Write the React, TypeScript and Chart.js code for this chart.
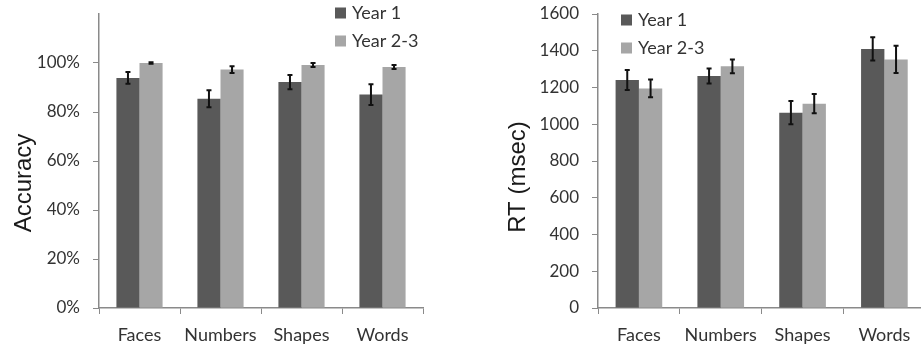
import React, { useEffect, useRef } from "react";
import { Chart, registerables } from "chart.js";
Chart.register(...registerables);

const categories = ["Faces", "Numbers", "Shapes", "Words"];
const seriesNames = ["Year 1", "Year 2-3"];

const accYear1 = [93.9, 85.4, 92.2, 87.1];
const accYear23 = [100, 97.3, 99.2, 98.4];
const accErrYear1 = [2.4, 3.5, 2.9, 4.2];
const accErrYear23 = [0.3, 1.4, 0.8, 0.8];

const rtYear1 = [1241, 1263, 1063, 1410];
const rtYear23 = [1195, 1315, 1112, 1353];
const rtErrYear1 = [54, 41, 63, 63];
const rtErrYear23 = [48, 37, 52, 74];

const accAxis = { min: 0, max: 120, step: 20, hidden: 120 };
const rtAxis = { min: 0, max: 1600, step: 200 };

const seriesColors = ["#595959", "#a6a6a6"];
const textColor = "#333333";
const axisColor = "#8a8a8a";
const tickFont = "Lato";
const titleFont = "'Liberation Sans', Arial, sans-serif";

const decorPlugin = {
  id: "decor",
  afterDatasetsDraw(chart: any) {
    const ctx = chart.ctx;
    const yScale = chart.scales.y;
    chart.data.datasets.forEach((ds: any, i: number) => {
      const meta = chart.getDatasetMeta(i);
      meta.data.forEach((el: any, j: number) => {
        const v = ds.data[j];
        const e = ds.errors[j];
        const yt = yScale.getPixelForValue(v + e);
        const yb = yScale.getPixelForValue(v - e);
        ctx.save();
        ctx.strokeStyle = "#111111";
        ctx.lineWidth = 2;
        ctx.beginPath();
        ctx.moveTo(el.x, yt);
        ctx.lineTo(el.x, yb);
        ctx.moveTo(el.x - 2.5, yt);
        ctx.lineTo(el.x + 2.5, yt);
        ctx.moveTo(el.x - 2.5, yb);
        ctx.lineTo(el.x + 2.5, yb);
        ctx.stroke();
        ctx.restore();
      });
    });
  },
  afterDraw(chart: any, _args: any, opts: any) {
    const ctx = chart.ctx;
    ctx.save();
    chart.data.datasets.forEach((ds: any, i: number) => {
      const y = opts.legendY + i * 28;
      ctx.fillStyle = ds.backgroundColor;
      ctx.fillRect(opts.legendX, y - 5.5, 11, 11);
      ctx.fillStyle = textColor;
      ctx.font = `18px ${tickFont}`;
      ctx.textAlign = "left";
      ctx.textBaseline = "middle";
      ctx.fillText(ds.label, opts.legendX + 17, y);
    });
    ctx.translate(opts.titleX, opts.titleY);
    ctx.rotate(-Math.PI / 2);
    ctx.font = `24px ${titleFont}`;
    ctx.fillStyle = "#1a1a1a";
    ctx.textAlign = "center";
    ctx.textBaseline = "middle";
    ctx.fillText(opts.title, 0, 0);
    ctx.restore();
  },
};

function makeConfig(
  d1: number[], d2: number[], e1: number[], e2: number[],
  axis: any, fmt: (v: number) => string, yWidth: number, padRight: number, decor: any
): any {
  return {
    type: "bar",
    data: {
      labels: categories,
      datasets: [
        { label: seriesNames[0], data: d1, errors: e1, backgroundColor: seriesColors[0] },
        { label: seriesNames[1], data: d2, errors: e2, backgroundColor: seriesColors[1] },
      ],
    },
    options: {
      responsive: false,
      animation: false,
      layout: { padding: { top: 14, right: padRight, left: 0, bottom: 0 } },
      datasets: { bar: { categoryPercentage: 0.57, barPercentage: 1.0 } },
      plugins: { legend: { display: false }, tooltip: { enabled: false }, decor },
      scales: {
        x: {
          grid: { drawOnChartArea: false, tickLength: 6, color: axisColor, offset: true },
          border: { color: axisColor, width: 1.5 },
          ticks: { color: textColor, font: { family: tickFont, size: 18 }, padding: 10, maxRotation: 0 },
          afterFit: (s: any) => { s.height = 351 - 308; s.paddingLeft = 0; s.paddingRight = 0; },
        },
        y: {
          min: axis.min,
          max: axis.max,
          grid: {
            drawOnChartArea: false,
            tickLength: 6,
            color: (c: any) => (axis.hidden !== undefined && c.tick && c.tick.value === axis.hidden ? "rgba(0,0,0,0)" : axisColor),
          },
          border: { color: axisColor, width: 1.5 },
          ticks: {
            stepSize: axis.step,
            color: textColor,
            font: { family: tickFont, size: 17 },
            padding: 13,
            callback: (v: number) => (axis.hidden !== undefined && v === axis.hidden ? "" : fmt(v)),
          },
          afterFit: (s: any) => { s.width = yWidth; s.paddingTop = 0; s.paddingBottom = 0; },
        },
      },
    },
    plugins: [decorPlugin],
  };
}

function ChartCanvas({ config, width }: { config: () => any; width: number }) {
  const ref = useRef<HTMLCanvasElement | null>(null);
  useEffect(() => {
    if (!ref.current) return;
    const c = new Chart(ref.current, config());
    return () => c.destroy();
  }, []);
  return <canvas ref={ref} width={width} height={351} style={{ display: "block" }} />;
}

export default function App() {
  return (
    <div style={{ position: "fixed", left: 0, top: 0, width: 921, height: 351, overflow: "hidden", background: "#fff" }}>
      <div style={{ position: "absolute", left: 0, top: 0 }}>
        <ChartCanvas
          width={460}
          config={() =>
            makeConfig(accYear1, accYear23, accErrYear1, accErrYear23, accAxis, (v) => `${v}%`, 99, 37,
              { legendX: 335, legendY: 13, title: "Accuracy", titleX: 24, titleY: 183 })
          }
        />
      </div>
      <div style={{ position: "absolute", left: 460, top: 0 }}>
        <ChartCanvas
          width={480}
          config={() =>
            makeConfig(rtYear1, rtYear23, rtErrYear1, rtErrYear23, rtAxis, (v) => `${v}`, 138, 14.7,
              { legendX: 161, legendY: 20, title: "RT (msec)", titleX: 58, titleY: 177 })
          }
        />
      </div>
    </div>
  );
}
